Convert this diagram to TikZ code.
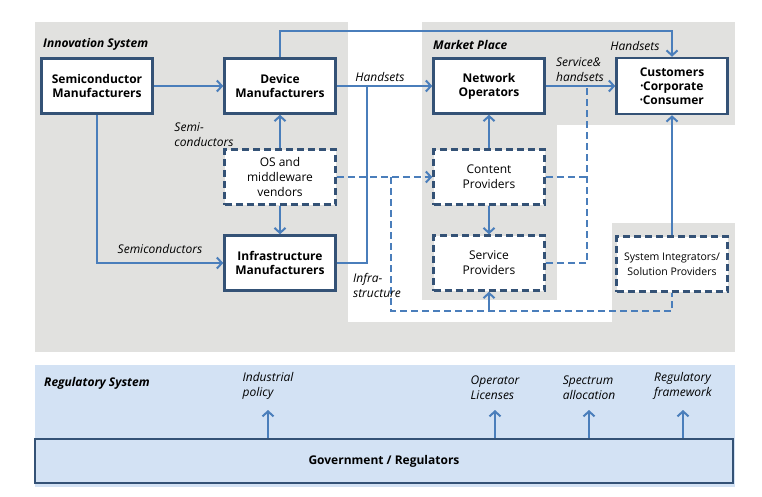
\documentclass[tikz,border=0pt]{standalone}
\usepackage{fontspec}
\setmainfont{Open Sans}
\usetikzlibrary{arrows.meta}

\definecolor{boxline}{RGB}{52,82,118}
\definecolor{flow}{RGB}{74,126,187}
\definecolor{granite}{RGB}{225,225,223}
\definecolor{regblue}{RGB}{211,226,244}

\newcommand{\dotitem}{\raisebox{0.25ex}{\fontsize{7}{8}\selectfont\textbullet}}

\tikzset{
  actor/.style={draw=boxline, line width=2.5pt, fill=white, minimum width=111pt,
    minimum height=55pt, align=center, inner sep=1pt,
    font=\fontsize{12}{14}\selectfont\bfseries},
  vendor/.style={actor, dash pattern=on 7pt off 4pt, font=\fontsize{12}{15}\selectfont},
  plain/.style={draw=flow, line width=2pt},
  link/.style={plain, -{Straight Barb[length=5pt,width=11pt]}},
  dplain/.style={plain, dash pattern=on 7pt off 4pt},
  dlink/.style={link, dash pattern=on 7pt off 4pt},
  flowlabel/.style={font=\fontsize{12}{15}\selectfont\itshape, align=left, inner sep=0pt},
  zone/.style={font=\fontsize{12}{14}\selectfont\bfseries\itshape, anchor=west, inner sep=0pt}
}

\begin{document}
\begin{tikzpicture}[x=1pt, y={(0,-1pt)}]
\useasboundingbox (0,0) rectangle (762,496);

% backgrounds
\fill[granite] (35,22) rectangle (348,352);
\fill[granite] (422,22) rectangle (735,125);
\fill[granite] (422,22) rectangle (557,300);
\fill[granite] (612,223) rectangle (735,352);
\fill[granite] (35,322) rectangle (735,352);
\fill[regblue] (35,365) rectangle (735,487);

\node[zone] (innovation) at (43,44) {Innovation System};
\node[zone] (market) at (433,45) {Market Place};
\node[zone] (regulatory) at (44,383) {Regulatory System};

% actors
\node[actor] (semi) at (97,86) {Semiconductor\\Manufacturers};
\node[actor] (device) at (280,86) {Device\\Manufacturers};
\node[actor] (infra) at (280,263) {Infrastructure\\Manufacturers};
\node[actor] (netop) at (489,86) {Network\\Operators};
\node[actor, minimum height=56pt] (cust) at (672,86) {Customers\\\dotitem Corporate\\\dotitem Consumer};
\node[vendor] (os) at (280,177) {OS and\\middleware\\vendors};
\node[vendor] (content) at (489,177) {Content\\Providers};
\node[vendor] (service) at (489,263) {Service\\Providers};
\node[vendor, font=\fontsize{10.5}{15}\selectfont] (si) at (672,264) {System Integrators/\\Solution Providers};

\coordinate (handsetsTop) at (280,31);
\coordinate (infraJoin) at (367,86);
\coordinate (osTap) at (391,177);
\coordinate (loopL) at (391,311);
\coordinate (loopR) at (672,311);
\coordinate (svcTap) at (489,311);
\coordinate (spineTop) at (587,88);
\coordinate (spineMid) at (587,177);
\coordinate (spineBot) at (587,263);

\draw[link] (semi) -- (device);
\draw[link] (device.north) -- (handsetsTop) -| (cust.north);
\draw[link] (device) -- (netop);
\draw[link] (netop) -- (cust);
\draw[plain] (infra.east) -| (infraJoin);
\draw[link] (semi.south) |- (infra.west);
\draw[link] (os.north) -- (device.south);
\draw[link] (os.south) -- (infra.north);
\draw[link] (content.north) -- (netop.south);
\draw[link] (content.south) -- (service.north);
\draw[link] (si.north) -- (cust.south);

\draw[dlink] (os.east) -- (content.west);
\draw[dplain] (osTap) -- (loopL) -- (loopR) -- (si.south);
\draw[link] (svcTap) -- (service.south);
\draw[dplain] (spineTop) -- (spineBot) -- (service.east);
\draw[dplain] (content.east) -- (spineMid);

\node[flowlabel] (lblHandsetsTop) at (635,46) {Handsets};
\node[flowlabel] (lblHandsets) at (380,77) {Handsets};
\node[flowlabel] (lblService) at (580,70) {Service\&\\handsets};
\node[flowlabel] (lblSemi) at (204,135) {Semi-\\conductors};
\node[flowlabel] (lblSemiLow) at (160,249) {Semiconductors};
\node[flowlabel] (lblInfra) at (377,285) {Infra-\\structure};

% regulatory system
\node[draw=boxline, line width=2pt, fill=regblue, minimum width=698pt, minimum height=44pt,
  font=\fontsize{12}{14}\selectfont\bfseries] (gov) at (384,461) {Government / Regulators};
\foreach \x/\t [count=\i] in {268/{Industrial\\policy}, 495/{Operator\\Licenses},
    589/{Spectrum\\allocation}, 683/{Regulatory\\framework}} {
  \node[flowlabel, anchor=south] (policy\i) at (\x,400) {\t};
  \coordinate (tip\i) at (\x,410);
  \draw[link] (gov.north -| tip\i) -- (tip\i);
}
\end{tikzpicture}
\end{document}
